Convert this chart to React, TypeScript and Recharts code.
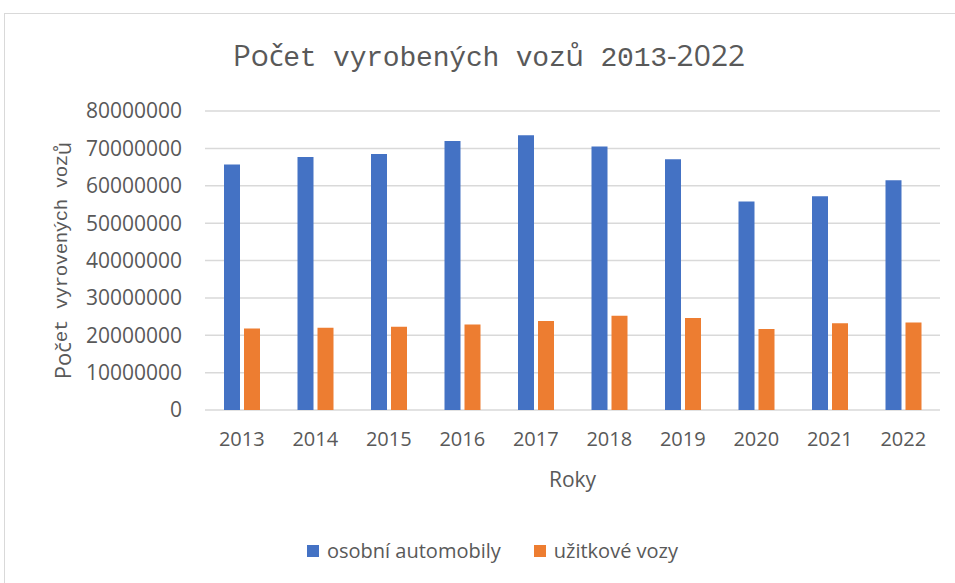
import React from 'react';
import { BarChart, Bar, XAxis, YAxis, CartesianGrid, Legend } from 'recharts';

const years = ['2013', '2014', '2015', '2016', '2017', '2018', '2019', '2020', '2021', '2022'];
const osobni = [65700000, 67700000, 68500000, 72000000, 73500000, 70500000, 67100000, 55800000, 57200000, 61500000];
const uzitkove = [21800000, 22000000, 22300000, 22900000, 23800000, 25200000, 24600000, 21700000, 23200000, 23400000];
const yTicks = [0, 10000000, 20000000, 30000000, 40000000, 50000000, 60000000, 70000000, 80000000];

const data = years.map((year, i) => ({ year, osobni: osobni[i], uzitkove: uzitkove[i] }));

const TEXT = '#595959';
const SANS = '"Open Sans", sans-serif';
const SLAB = '"Liberation Mono", monospace';

const YLabel = (props: any) => {
    const { viewBox } = props;
    const cy = viewBox.y + viewBox.height / 2;
    const cx = 62;
    return (
        <text x={cx} y={cy} transform={`rotate(-90 ${cx} ${cy})`} textAnchor="middle" dominantBaseline="central" fill={TEXT} fontSize={22}>
            <tspan fontFamily={SANS}>Poč</tspan>
            <tspan fontFamily={SLAB} fontSize={19} letterSpacing={-0.4}>et vyrovených voz</tspan>
            <tspan fontFamily={SANS}>ů</tspan>
        </text>
    );
};

const LegendBox = () => (
    <div style={{ display: 'flex', justifyContent: 'center', alignItems: 'center', fontFamily: SANS, fontSize: 20, color: TEXT }}>
        <span style={{ width: 12, height: 12, background: '#4472C4', marginRight: 8 }} />
        <span style={{ marginRight: 33 }}>osobní automobily</span>
        <span style={{ width: 12, height: 12, background: '#ED7D31', marginRight: 8 }} />
        <span>užitkové vozy</span>
    </div>
);

export default function App() {
    return (
        <div style={{ position: 'absolute', left: 0, top: 0, width: 955, height: 583, overflow: 'hidden', background: '#fff' }}>
            <div style={{ position: 'absolute', left: 4, top: 13, width: 990, height: 600, border: '1px solid #d9d9d9' }} />
            <div style={{ position: 'absolute', left: 0, top: 34, width: 978, textAlign: 'center', fontSize: 30, color: TEXT, whiteSpace: 'nowrap' }}>
                <span style={{ fontFamily: SANS }}>Poč</span>
                <span style={{ fontFamily: SLAB, fontSize: 28, letterSpacing: -0.2 }}>et vyrobených voz</span>
                <span style={{ fontFamily: SANS }}>ů</span>
                <span style={{ fontFamily: SLAB, fontSize: 28, letterSpacing: -0.2 }}> 2013</span>
                <span style={{ fontFamily: SANS }}>-2022</span>
            </div>
            <BarChart
                width={955}
                height={583}
                data={data}
                margin={{ top: 111, right: 15, bottom: 73, left: 0 }}
                barSize={16}
                barGap={4}
                style={{ position: 'absolute', left: 0, top: 0 }}
            >
                <CartesianGrid vertical={false} stroke="#d9d9d9" strokeWidth={1.5} />
                <XAxis
                    dataKey="year"
                    height={100}
                    axisLine={false}
                    tickLine={false}
                    tickMargin={16}
                    tick={{ fill: TEXT, fontSize: 20, fontFamily: SANS }}
                    label={{ value: 'Roky', position: 'insideTop', offset: 62, fill: TEXT, fontSize: 21, fontFamily: SANS }}
                />
                <YAxis
                    width={205}
                    domain={[0, 80000000]}
                    ticks={yTicks}
                    interval={0}
                    axisLine={false}
                    tickLine={false}
                    tickMargin={17}
                    tick={{ fill: TEXT, fontSize: 21, fontFamily: SANS }}
                    label={<YLabel />}
                />
                <Legend verticalAlign="middle" align="center" content={<LegendBox />} wrapperStyle={{ top: 537, left: 0, width: 985 }} />
                <Bar dataKey="osobni" name="osobní automobily" fill="#4472C4" isAnimationActive={false} />
                <Bar dataKey="uzitkove" name="užitkové vozy" fill="#ED7D31" isAnimationActive={false} />
            </BarChart>
        </div>
    );
}
